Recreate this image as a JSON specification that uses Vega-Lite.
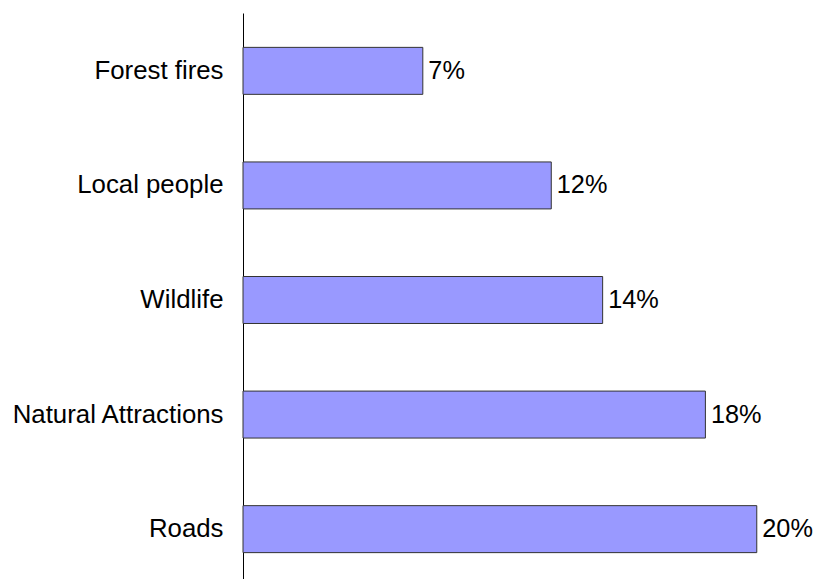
{
  "$schema": "https://vega.github.io/schema/vega-lite/v6.json",
  "width": 578,
  "height": 574,
  "autosize": {"type": "none"},
  "padding": {"left": 243, "top": 13, "right": 2, "bottom": 0},
  "background": "white",
  "config": {"view": {"stroke": null}, "font": "Liberation Sans"},
  "data": {
    "values": [
      {"category": "Forest fires", "value": 0.07},
      {"category": "Local people", "value": 0.12},
      {"category": "Wildlife", "value": 0.14},
      {"category": "Natural Attractions", "value": 0.18},
      {"category": "Roads", "value": 0.20}
    ]
  },
  "encoding": {
    "y": {
      "field": "category",
      "type": "nominal",
      "sort": null,
      "scale": {"paddingInner": 0.59, "paddingOuter": 0.3},
      "axis": {
        "title": null,
        "ticks": false,
        "labelPadding": 20,
        "labelLimit": 400,
        "labelFont": "Liberation Sans",
        "labelFontSize": 25.8,
        "labelColor": "#000000",
        "domainColor": "#000000",
        "domainWidth": 1,
        "grid": false
      }
    },
    "x": {
      "field": "value",
      "type": "quantitative",
      "scale": {"domain": [0, 0.225], "nice": false},
      "axis": null
    }
  },
  "layer": [
    {
      "mark": {"type": "bar", "color": "#9999ff", "stroke": "#333333", "strokeWidth": 1}
    },
    {
      "mark": {"type": "text", "align": "left", "baseline": "middle", "dx": 5.5, "font": "Liberation Sans", "fontSize": 25.3, "color": "#000000"},
      "encoding": {"text": {"field": "value", "type": "quantitative", "format": ".0%"}}
    }
  ]
}
